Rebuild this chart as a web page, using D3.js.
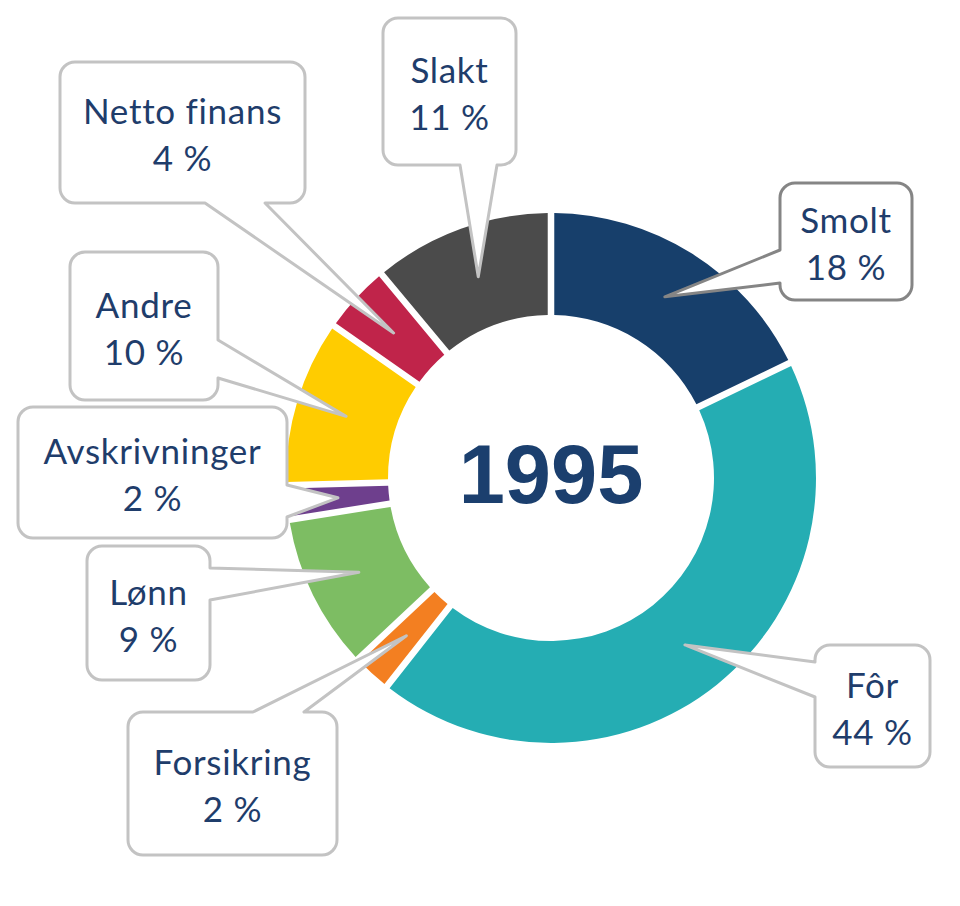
<!DOCTYPE html>
<html>
<head>
<meta charset="utf-8">
<script src="https://cdn.jsdelivr.net/npm/d3@7"></script>
<style>
  body { margin: 0; background: #fff; }
  .lbl { font-family: Lato, "Open Sans", sans-serif; fill: #1f3d6b; letter-spacing: 0.7px; }
</style>
</head>
<body>
<div id="chart"></div>
<script>
// Categories and their shares (per cent), clockwise from 12 o'clock
const categories = ["Smolt", "Fôr", "Forsikring", "Lønn", "Avskrivninger", "Andre", "Netto finans", "Slakt"];
const values = [18.0, 43.6, 2.1, 9.4, 1.8, 10.1, 4.0, 11.0];
const colors = ["#173f6b", "#25adb3", "#f37f21", "#7dbd63", "#6e3f8d", "#ffcc00", "#c0244a", "#4b4b4b"];
const yearLabel = "1995";

// Callout box layout: [x0, y0, x1, y1], side the pointer leaves from, and its base span
const callouts = [
    { box: [780, 183, 912, 300], side: "left",   base: [250, 283], stroke: "#858585" },
    { box: [815, 645, 930, 767], side: "left",   base: [662, 697] },
    { box: [128, 712, 337, 855], side: "top",    base: [253, 304] },
    { box: [87, 546, 210, 680],  side: "right",  base: [568, 600] },
    { box: [18, 407, 287, 538],  side: "right",  base: [485, 517] },
    { box: [70, 252, 218, 400],  side: "right",  base: [340, 378] },
    { box: [60, 62, 305, 203],   side: "bottom", base: [205, 265] },
    { box: [383, 18, 516, 165],  side: "bottom", base: [460, 497] }
];

const width = 960, height = 906;
const cx = 551, cy = 478;
const outerR = 265, innerR = 163;

const svg = d3.select("#chart")
    .append("svg")
    .attr("width", width)
    .attr("height", height)
    .attr("viewBox", `0 0 ${width} ${height}`);

const data = categories.map((c, i) => ({ name: c, value: values[i], color: colors[i] }));

const pie = d3.pie()
    .value(d => d.value)
    .sort(null)
    .padAngle(0.021);

const arc = d3.arc()
    .innerRadius(innerR)
    .outerRadius(outerR);

const arcs = pie(data);

/*****************/
/* Donut slices  */
/*****************/
const ring = svg.append("g")
    .attr("transform", `translate(${cx},${cy})`);

ring.selectAll("path")
    .data(arcs)
    .join("path")
        .attr("d", arc)
        .attr("fill", d => d.data.color);

// Year in the hole
ring.append("text")
    .text(yearLabel)
    .attr("text-anchor", "middle")
    .attr("y", 25)
    .attr("font-family", "'Liberation Sans', Arial, sans-serif")
    .attr("font-weight", "bold")
    .attr("font-size", 83)
    .attr("fill", "#1b3f6e");

/*****************************/
/* Callout boxes with wedges */
/*****************************/
const calloutPath = (c, tip) => {
    const [x0, y0, x1, y1] = c.box;
    const r = 15;
    const [b0, b1] = c.base;
    const t = `L${tip[0]},${tip[1]}`;
    let p = `M${x0 + r},${y0}`;
    if (c.side === "top") p += `L${b0},${y0}${t}L${b1},${y0}`;
    p += `L${x1 - r},${y0}A${r},${r} 0 0 1 ${x1},${y0 + r}`;
    if (c.side === "right") p += `L${x1},${b0}${t}L${x1},${b1}`;
    p += `L${x1},${y1 - r}A${r},${r} 0 0 1 ${x1 - r},${y1}`;
    if (c.side === "bottom") p += `L${b1},${y1}${t}L${b0},${y1}`;
    p += `L${x0 + r},${y1}A${r},${r} 0 0 1 ${x0},${y1 - r}`;
    if (c.side === "left") p += `L${x0},${b1}${t}L${x0},${b0}`;
    p += `L${x0},${y0 + r}A${r},${r} 0 0 1 ${x0 + r},${y0}Z`;
    return p;
};

const fmt = d3.format(".0f");

const labels = svg.append("g")
    .selectAll("g")
    .data(arcs)
    .join("g");

labels.append("path")
    .attr("d", (d, i) => {
        const [tx, ty] = arc.centroid(d);
        return calloutPath(callouts[i], [cx + tx, cy + ty]);
    })
    .attr("fill", "#fff")
    .attr("stroke", (d, i) => callouts[i].stroke || "#c3c3c3")
    .attr("stroke-width", 3)
    .attr("stroke-linejoin", "round");

labels.each(function (d, i) {
    const [x0, y0, x1, y1] = callouts[i].box;
    const mx = (x0 + x1) / 2, my = (y0 + y1) / 2;
    const g = d3.select(this);
    g.append("text")
        .attr("class", "lbl")
        .attr("text-anchor", "middle")
        .attr("x", mx)
        .attr("y", my - 8.5)
        .attr("font-size", 35)
        .text(d.data.name);
    g.append("text")
        .attr("class", "lbl")
        .attr("text-anchor", "middle")
        .attr("x", mx)
        .attr("y", my + 38.5)
        .attr("font-size", 35)
        .text(`${fmt(d.data.value)} %`);
});
</script>
</body>
</html>
